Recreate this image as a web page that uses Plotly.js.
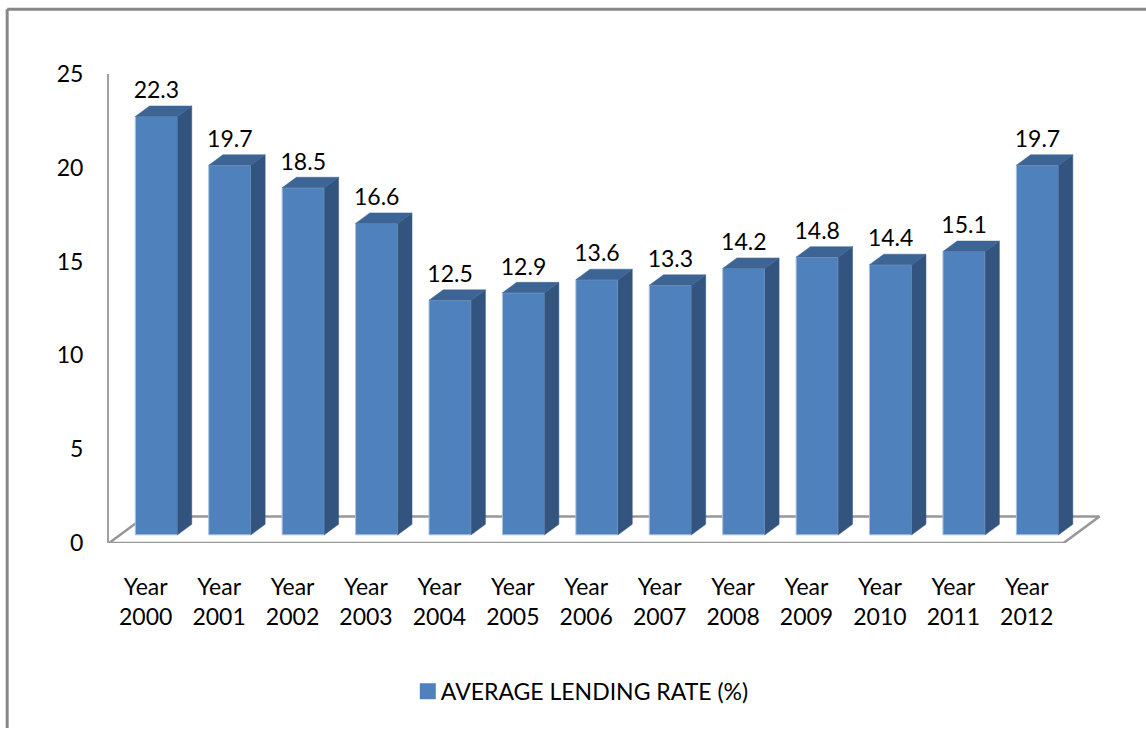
<!DOCTYPE html>
<html>
<head>
<meta charset="utf-8">
<script src="https://cdn.plot.ly/plotly-3.0.1.min.js"></script>
<style>html,body{margin:0;padding:0;background:#fff}#chart{width:1146px;height:729px}</style>
</head>
<body>
<div id="chart"></div>
<script>
// Average lending rate by year
const categories = ['Year 2000','Year 2001','Year 2002','Year 2003','Year 2004','Year 2005','Year 2006',
  'Year 2007','Year 2008','Year 2009','Year 2010','Year 2011','Year 2012'];
const lendingRates = [22.3,19.7,18.5,16.6,12.5,12.9,13.6,13.3,14.2,14.8,14.4,15.1,19.7];
const yTicks = [0,5,10,15,20,25];
const seriesName = 'AVERAGE LENDING RATE (%)';

// Pixel frame of the plot and scale of each axis
const W = 1146, H = 729;
const plot = {left:109.3, right:1105, top:73.5, bottom:543.5};
const pxPerCat = 73.4, pxPerUnit = 18.8;
const xMax = (plot.right - plot.left) / pxPerCat - 0.5;

// Pseudo-3D geometry: the bars stand on a floor set back from the axis corner
const barShiftX = 10.7 / pxPerCat, barShiftY = 8.2 / pxPerUnit;
const barWidth = 42.2 / pxPerCat;
const depthX = 14.2 / pxPerCat, depthY = 10.5 / pxPerUnit;
const floorX = 36 / pxPerCat, floorY = 26.5 / pxPerUnit;
const labelLift = 2 / pxPerUnit;

const idx = categories.map((_, i) => i);
const sideX = [], sideY = [], topX = [], topY = [];
lendingRates.forEach((v, i) => {
  const l = i - barWidth / 2, r = i + barWidth / 2;
  sideX.push(r, r, r + depthX, r + depthX, r, null);
  sideY.push(0, v, v + depthY, depthY, 0, null);
  topX.push(l, r, r + depthX, l + depthX, l, null);
  topY.push(v, v, v + depthY, v + depthY, v, null);
});

const font = 'Lato, "Open Sans", sans-serif';
const traces = [
  { // floor outline, behind the bars
    type:'scatter', mode:'lines', xaxis:'x', yaxis:'y', showlegend:false, hoverinfo:'skip', cliponaxis:false,
    x:[-0.5 + floorX, -0.5, categories.length - 0.5, categories.length - 0.5 + floorX, -0.5 + floorX],
    y:[floorY, 0, 0, floorY, floorY],
    line:{color:'#989898', width:2.6}
  },
  {
    type:'bar', xaxis:'x2', yaxis:'y2', x:idx, y:lendingRates, width:barWidth, showlegend:false,
    marker:{color:'#4F81BD', line:{color:'#A9C1DE', width:1}}
  },
  {
    type:'scatter', mode:'lines', xaxis:'x2', yaxis:'y2', x:sideX, y:sideY, fill:'toself',
    fillcolor:'#33547E', line:{color:'#33547E', width:0.5}, showlegend:false, hoverinfo:'skip'
  },
  {
    type:'scatter', mode:'lines', xaxis:'x2', yaxis:'y2', x:topX, y:topY, fill:'toself',
    fillcolor:'#3C6494', line:{color:'#3C6494', width:0.5}, showlegend:false, hoverinfo:'skip'
  },
  {
    type:'scatter', mode:'text', xaxis:'x2', yaxis:'y2', x:idx, y:lendingRates.map(v => v + depthY + labelLift),
    text:lendingRates.map(v => v.toFixed(1)), textposition:'top center',
    textfont:{family:font, size:23, color:'#000'}, showlegend:false, hoverinfo:'skip', cliponaxis:false
  },
  { // legend key
    type:'scatter', mode:'markers', x:[null], y:[null], name:seriesName,
    marker:{symbol:'square', size:16, color:'#4F81BD'}
  }
];

const px = x => (x - plot.left) / (plot.right - plot.left);
const py = y => (plot.bottom - y) / (plot.bottom - plot.top);
const borderLine = {color:'#878787', width:3};

const layout = {
  width:W, height:H, paper_bgcolor:'#fff', plot_bgcolor:'rgba(0,0,0,0)',
  margin:{l:plot.left, r:W - plot.right, t:plot.top, b:H - plot.bottom, pad:0},
  font:{family:font, size:23, color:'#000'},
  showlegend:true,
  legend:{orientation:'h', x:0.3, xanchor:'left', y:py(692), yanchor:'middle',
    font:{family:font, size:23, color:'#000'}, bgcolor:'rgba(0,0,0,0)', itemsizing:'trace', itemwidth:30},
  xaxis:{type:'linear', range:[-0.5, xMax], tickmode:'array', tickvals:idx,
    ticktext:categories.map(c => c.replace(' ', '<br>')), showgrid:false, zeroline:false,
    showline:false, ticks:'', ticklabelstandoff:28, fixedrange:true},
  yaxis:{range:[0,25], tickmode:'array', tickvals:yTicks, showgrid:false, zeroline:false,
    showline:true, linecolor:'#A0A0A0', linewidth:2, ticks:'', ticklabelstandoff:19, fixedrange:true},
  xaxis2:{type:'linear', overlaying:'x', range:[-0.5 - barShiftX, xMax - barShiftX], visible:false, fixedrange:true},
  yaxis2:{overlaying:'y', range:[-barShiftY, 25 - barShiftY], visible:false, fixedrange:true},
  shapes:[
    {type:'line', xref:'paper', yref:'paper', x0:px(7.5), x1:px(W), y0:py(8.5), y1:py(8.5), line:borderLine},
    {type:'line', xref:'paper', yref:'paper', x0:px(7.5), x1:px(7.5), y0:py(8.5), y1:py(H), line:borderLine}
  ]
};

Plotly.newPlot('chart', traces, layout, {displayModeBar:false, staticPlot:true}).then(gd => {
  // Tighten the gap between the legend key and its label
  const label = gd.querySelector('.legendtext');
  if (label) label.setAttribute('transform', 'translate(-7,0)');
});
</script>
</body>
</html>
